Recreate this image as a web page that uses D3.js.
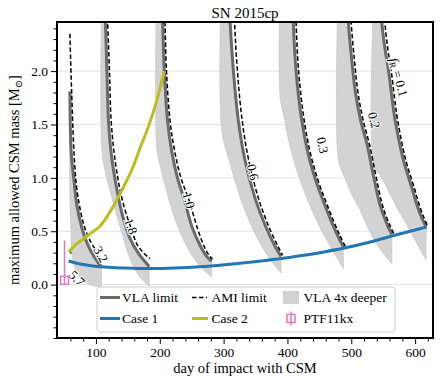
<!DOCTYPE html>
<html>
<head>
<meta charset="utf-8">
<script src="https://cdn.jsdelivr.net/npm/d3@7"></script>
<style>
  body { margin: 0; background: #fff; }
  svg, svg text { font-family: "Liberation Serif", "DejaVu Serif", serif; }
</style>
</head>
<body>
<div id="vis"></div>
<script>
// SN 2015cp - CSM mass limits vs impact day

// VLA limit contours [day, mass]
const vla32 = [[59.2,1.81],[61.3,1.23],[65.5,0.98],[70.2,0.74],[78,0.53],[87.5,0.37],[98.4,0.25],[108.9,0.165]];
const vla18 = [[113.3,2.76],[114.9,2.46],[117.2,2.0],[119.6,1.54],[124.3,1.21],[132.1,0.915],[141.5,0.65],[153.3,0.434],[166.6,0.293],[183.5,0.17]];
const vla10 = [[202.7,2.85],[204.5,2.46],[207.1,2.0],[212.1,1.54],[218.3,1.26],[227.7,1.0],[238.7,0.79],[250.5,0.54],[263.8,0.36],[274,0.26],[281.3,0.218]];
const vla06 = [[307.7,2.95],[310,2.48],[315.2,2.01],[323,1.54],[333.5,1.165],[349.2,0.81],[365.7,0.547],[380.6,0.36],[390,0.265]];
const vla03 = [[408,2.85],[409.2,2.46],[413.5,2.0],[422.4,1.54],[432.3,1.23],[443.3,0.994],[455.8,0.788],[468.3,0.6],[478.5,0.462],[487.6,0.353]];
const vla02 = [[494,2.8],[495.5,2.46],[500.8,2.1],[506,1.82],[513.8,1.56],[524.8,1.31],[534.6,1.025],[545.1,0.744],[555.6,0.572],[563.5,0.472]];
const vla01 = [[546.5,2.75],[547.8,2.46],[553,2.2],[558.2,2.01],[563.2,1.776],[568.7,1.54],[581.7,1.165],[595.3,0.9],[601.6,0.772],[609.4,0.64],[617.2,0.54]];

// AMI limit contours
const ami57 = [[59.2,0.33],[60.6,0.29]];
const ami32 = [[59.2,2.35],[60.8,2.01],[62.4,1.73],[64,1.45],[66.3,1.165],[69.4,0.93],[74.1,0.743],[81.2,0.556],[90.6,0.415],[100,0.322]];
const ami18 = [[116.5,2.76],[118.3,2.46],[121.2,2.0],[123.8,1.54],[129,1.21],[136.8,0.915],[145.5,0.7],[155,0.53],[164.3,0.378],[173.7,0.303],[184.6,0.244]];
const ami10 = [[206.6,2.85],[208.2,2.46],[210.5,2.0],[216,1.54],[223,1.26],[233.2,1.0],[245.8,0.79],[258.3,0.54],[269.3,0.36],[277.1,0.275],[282.6,0.237]];
const ami06 = [[314.5,2.95],[317,2.48],[321.5,2.01],[329,1.54],[339.3,1.165],[354.5,0.81],[370.5,0.547],[385,0.36],[392.5,0.275]];
const ami03 = [[412,2.85],[413.5,2.46],[417.5,2.0],[426.2,1.54],[436,1.23],[447,0.994],[459.5,0.788],[472,0.6],[482,0.462],[490.5,0.36]];
const ami02 = [[498,2.8],[499.8,2.46],[505,2.1],[510,1.82],[517.8,1.56],[528.6,1.31],[538.4,1.025],[548.8,0.744],[559.2,0.572],[566.5,0.48]];
const ami01 = [[551,2.75],[552.6,2.46],[557.4,2.2],[562.4,2.01],[567.2,1.776],[572.6,1.54],[585.4,1.165],[599,0.9],[605.2,0.772],[612.8,0.64],[619.5,0.55]];

// VLA 4x deeper (lower edge of each band)
const deep32 = [[59.2,1.81],[59.2,0.82],[60.8,0.51],[62.4,0.275],[68.7,0.134],[81.2,0.031],[93.7,-0.006],[108.9,-0.028]];
const deep18 = [[108.9,2.7],[108.9,1.29],[114.1,1.07],[124.6,0.82],[132.9,0.64],[140.8,0.48],[148.6,0.32],[158,0.18],[169,0.068],[183.5,-0.016]];
const deep10 = [[195.1,2.9],[195.1,1.29],[200.3,1.12],[208.2,0.931],[219.1,0.697],[231.7,0.49],[247.3,0.303],[263,0.172],[281.3,0.071]];
const deep06 = [[297,3.0],[297,1.447],[310,1.135],[325.7,0.821],[346.6,0.509],[370.1,0.259],[390,0.11]];
const deep03 = [[388.4,2.9],[388.4,1.76],[393.6,1.6],[404.1,1.29],[419.7,0.978],[440.6,0.666],[461.6,0.415],[487.6,0.15]];
const deep02 = [[479.8,2.85],[479.8,1.165],[488.7,1.015],[499.7,0.856],[513.8,0.697],[526.3,0.528],[542,0.359],[563.5,0.197]];
const deep01 = [[535.7,2.8],[535.7,1.103],[545.1,1.025],[554.5,0.922],[565.5,0.79],[576.5,0.666],[589,0.537],[600,0.415],[617.2,0.228]];

// contour labels [day, mass, text, angle]
const contourLabels = [
  [70.2, 0.06, "5.7", 45],
  [107.8, 0.284, "3.2", 60],
  [154.9, 0.547, "1.8", 70],
  [245.8, 0.79, "1.0", 75],
  [346.1, 1.053, "0.6", 77],
  [455, 1.306, "0.3", 78],
  [535.7, 1.54, "0.2", 75],
  [574.9, 1.944, "fR", 75]
];

// models
const case1 = [[57,0.221],[80,0.188],[106,0.167],[145,0.155],[185,0.15],[224,0.155],[263,0.167],[302,0.186],[341,0.209],[381,0.237],[420,0.27],[459,0.308],[498,0.354],[537,0.411],[577,0.476],[618,0.54]];
const case2 = [[57.7,0.303],[67.1,0.368],[80.1,0.425],[93.7,0.49],[106.3,0.547],[118.8,0.65],[132.4,0.79],[145.5,0.94],[158.5,1.109],[169,1.278],[179.5,1.437],[187.8,1.578],[197.2,1.766],[207.1,2.0]];

// PTF11kx
const ptfDay = [50.8];
const ptfMass = [0.04];
const ptfLow = [0.0];
const ptfHigh = [0.415];

const xTicks = [100, 200, 300, 400, 500, 600];
const yTicks = [0.0, 0.5, 1.0, 1.5, 2.0];

const WIDTH = 443, HEIGHT = 380;
const MARGINS = {left: 57, right: 10, top: 22, bottom: 42};

const X_SCALE = d3.scaleLinear().domain([39, 628]).range([MARGINS.left, WIDTH - MARGINS.right]);
const Y_SCALE = d3.scaleLinear().domain([-0.5, 2.46]).range([HEIGHT - MARGINS.bottom, MARGINS.top]);

const svg = d3.select("#vis").append("svg")
  .attr("width", WIDTH).attr("height", HEIGHT);

svg.append("clipPath").attr("id", "clip")
  .append("rect")
  .attr("x", MARGINS.left).attr("y", MARGINS.top)
  .attr("width", WIDTH - MARGINS.left - MARGINS.right)
  .attr("height", HEIGHT - MARGINS.top - MARGINS.bottom);

// grid
svg.append("g").selectAll("line").data(yTicks).enter().append("line")
  .attr("x1", MARGINS.left).attr("x2", WIDTH - MARGINS.right)
  .attr("y1", d => Y_SCALE(d)).attr("y2", d => Y_SCALE(d))
  .attr("stroke", "#e3e3e3").attr("stroke-width", 1);

const plot = svg.append("g").attr("clip-path", "url(#clip)");

const smooth = d3.line()
  .x(d => X_SCALE(d[0])).y(d => Y_SCALE(d[1]))
  .curve(d3.curveCatmullRom.alpha(0.5));

// bands
const bands = [[vla32, deep32], [vla18, deep18], [vla10, deep10], [vla06, deep06],
               [vla03, deep03], [vla02, deep02], [vla01, deep01]];
bands.forEach(b => {
  const top = smooth(b[0]);
  const bottom = smooth(b[1].slice().reverse()).replace(/^M/, "L");
  plot.append("path")
    .attr("d", top + bottom + "Z")
    .attr("fill", "#d3d3d3")
    .attr("stroke", "#c2c2c2")
    .attr("stroke-width", 0.6);
});

// VLA limits
[vla32, vla18, vla10, vla06, vla03, vla02, vla01].forEach(c => {
  plot.append("path").attr("d", smooth(c))
    .attr("fill", "none").attr("stroke", "#6a6a6a").attr("stroke-width", 3);
});

// AMI limits
[ami57, ami32, ami18, ami10, ami06, ami03, ami02, ami01].forEach(c => {
  plot.append("path").attr("d", smooth(c))
    .attr("fill", "none").attr("stroke", "#000").attr("stroke-width", 1.5)
    .attr("stroke-dasharray", "4.5,2.4");
});

// labels
contourLabels.forEach(l => {
  const t = plot.append("text")
    .attr("transform", "translate(" + X_SCALE(l[0]) + "," + Y_SCALE(l[1]) + ") rotate(" + l[3] + ")")
    .attr("text-anchor", "middle").attr("dominant-baseline", "central")
    .attr("font-size", 13)
    .attr("stroke", "#fff").attr("stroke-width", 2).attr("paint-order", "stroke");
  if (l[2] === "fR") {
    t.append("tspan").attr("font-style", "italic").text("f");
    t.append("tspan").attr("font-size", 9).attr("dy", 3).text("R");
    t.append("tspan").attr("dy", -3).text(" = 0.1");
  } else {
    t.text(l[2]);
  }
});

// Case 1 and Case 2
plot.append("path").attr("d", smooth(case1))
  .attr("fill", "none").attr("stroke", "#1f77b4").attr("stroke-width", 3);
plot.append("path").attr("d", smooth(case2))
  .attr("fill", "none").attr("stroke", "#bcbd22").attr("stroke-width", 3);

// PTF11kx
const ptf = plot.append("g");
ptfDay.forEach((d, i) => {
  ptf.append("line")
    .attr("x1", X_SCALE(d)).attr("x2", X_SCALE(d))
    .attr("y1", Y_SCALE(ptfLow[i])).attr("y2", Y_SCALE(ptfHigh[i]))
    .attr("stroke", "#e377c2").attr("stroke-width", 1.5);
  ptf.append("rect")
    .attr("x", X_SCALE(d) - 4).attr("y", Y_SCALE(ptfMass[i]) - 4)
    .attr("width", 8).attr("height", 8)
    .attr("fill", "none").attr("stroke", "#e377c2").attr("stroke-width", 1.5);
});

// axes
svg.append("g")
  .attr("transform", "translate(0," + (HEIGHT - MARGINS.bottom) + ")")
  .call(d3.axisBottom(X_SCALE).tickValues(xTicks).tickSize(6).tickPadding(3).tickFormat(d3.format("d")));
svg.append("g")
  .attr("transform", "translate(0," + (HEIGHT - MARGINS.bottom) + ")")
  .call(d3.axisBottom(X_SCALE).tickValues(d3.range(60, 628, 20).filter(v => v % 100 !== 0)).tickSize(3.5).tickFormat(""));
svg.append("g")
  .attr("transform", "translate(" + MARGINS.left + ",0)")
  .call(d3.axisLeft(Y_SCALE).tickValues(yTicks).tickSize(6).tickPadding(3).tickFormat(d3.format(".1f")));
svg.append("g")
  .attr("transform", "translate(" + MARGINS.left + ",0)")
  .call(d3.axisLeft(Y_SCALE).tickValues(d3.range(-5, 25).map(v => v / 10).filter(v => Math.abs(v * 2 - Math.round(v * 2)) > 1e-6 || v < 0)).tickSize(3.5).tickFormat(""));

svg.selectAll(".domain").remove();
svg.selectAll(".tick line").attr("stroke", "#000").attr("stroke-width", 1);
svg.selectAll(".tick text")
  .style("font-family", "'Liberation Serif', serif")
  .style("font-size", "13.5px")
  .attr("fill", "#000");

// frame
svg.append("rect")
  .attr("x", MARGINS.left).attr("y", MARGINS.top)
  .attr("width", WIDTH - MARGINS.left - MARGINS.right)
  .attr("height", HEIGHT - MARGINS.top - MARGINS.bottom)
  .attr("fill", "none").attr("stroke", "#000").attr("stroke-width", 2);

// title & axis labels
svg.append("text").attr("x", (MARGINS.left + WIDTH - MARGINS.right) / 2).attr("y", 18)
  .attr("text-anchor", "middle").attr("font-size", 15).text("SN 2015cp");
svg.append("text").attr("x", (MARGINS.left + WIDTH - MARGINS.right) / 2).attr("y", 373)
  .attr("text-anchor", "middle").attr("font-size", 14.5).text("day of impact with CSM");
const yl = svg.append("text")
  .attr("transform", "translate(19," + ((MARGINS.top + HEIGHT - MARGINS.bottom) / 2) + ") rotate(-90)")
  .attr("text-anchor", "middle").attr("font-size", 14.5);
yl.append("tspan").text("maximum allowed CSM mass [M");
yl.append("tspan").attr("font-size", 10).attr("dy", 3).text("⊙");
yl.append("tspan").attr("dy", -3).text("]");

// legend
const lg = svg.append("g");
lg.append("rect").attr("x", 97).attr("y", 287).attr("width", 298).attr("height", 45)
  .attr("rx", 3).attr("fill", "#fff").attr("fill-opacity", 0.8)
  .attr("stroke", "#d0d0d0").attr("stroke-width", 1);
const r1 = 297.5, r2 = 318.5;
lg.append("line").attr("x1", 100).attr("x2", 120).attr("y1", r1).attr("y2", r1)
  .attr("stroke", "#6a6a6a").attr("stroke-width", 3);
lg.append("line").attr("x1", 192).attr("x2", 207).attr("y1", r1).attr("y2", r1)
  .attr("stroke", "#000").attr("stroke-width", 1.5).attr("stroke-dasharray", "4.5,2.5");
lg.append("rect").attr("x", 283.5).attr("y", 291.5).attr("width", 15).attr("height", 12)
  .attr("fill", "#d3d3d3").attr("stroke", "#c2c2c2").attr("stroke-width", 0.6);
lg.append("line").attr("x1", 100).attr("x2", 120).attr("y1", r2).attr("y2", r2)
  .attr("stroke", "#1f77b4").attr("stroke-width", 3);
lg.append("line").attr("x1", 192).attr("x2", 208).attr("y1", r2).attr("y2", r2)
  .attr("stroke", "#bcbd22").attr("stroke-width", 3);
lg.append("line").attr("x1", 291).attr("x2", 291).attr("y1", r2 - 7).attr("y2", r2 + 7)
  .attr("stroke", "#e377c2").attr("stroke-width", 1.5);
lg.append("rect").attr("x", 287).attr("y", r2 - 4).attr("width", 8).attr("height", 8)
  .attr("fill", "none").attr("stroke", "#e377c2").attr("stroke-width", 1.5);
const legendText = [[122, r1, "VLA limit"], [211.5, r1, "AMI limit"], [303.5, r1, "VLA 4x deeper"],
                    [122, r2, "Case 1"], [211.5, r2, "Case 2"], [303.5, r2, "PTF11kx"]];
lg.selectAll("text.lt").data(legendText).enter().append("text")
  .attr("x", d => d[0]).attr("y", d => d[1]).attr("dominant-baseline", "central")
  .attr("font-size", 13.5).text(d => d[2]);
</script>
</body>
</html>
